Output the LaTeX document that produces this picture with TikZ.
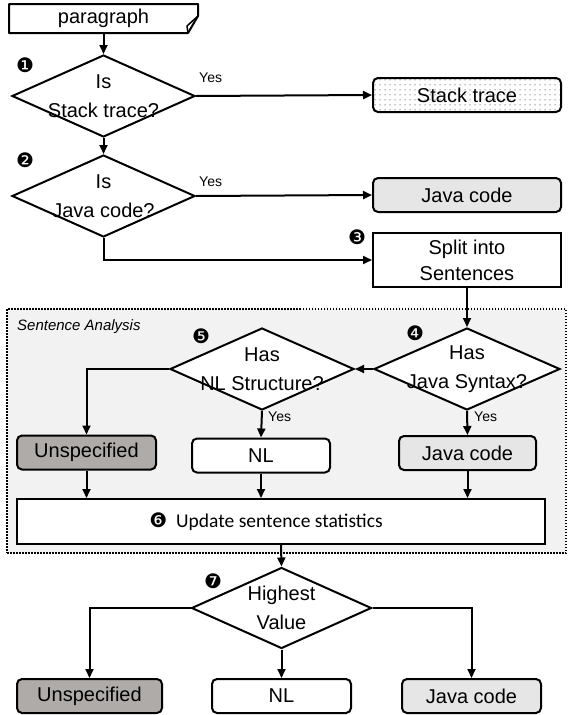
\documentclass[tikz,border=0pt]{standalone}
\usepackage{fontspec}
\setmainfont{Liberation Sans}
\newfontfamily\calibfont{Carlito}
\newfontfamily\dingfont{DejaVu Sans}
\usetikzlibrary{shapes.geometric,arrows.meta,calc,patterns.meta}
\newcommand{\stepno}[1]{{\dingfont\fontsize{20}{20}\selectfont #1}}
\definecolor{unsgray}{RGB}{174,171,169}
\definecolor{javagray}{RGB}{230,230,230}
\definecolor{areagray}{RGB}{242,242,242}
\tikzset{
	lbl/.style={font=\fontsize{20}{29}\selectfont, align=center, inner sep=0pt},
	yes/.style={font=\fontsize{14}{14}\selectfont, anchor=west, inner sep=0pt},
	box/.style={draw, line width=2pt, inner sep=0pt, font=\fontsize{20}{26}\selectfont, align=center},
	rbox/.style={box, rounded corners=5pt, minimum height=34pt},
	dec/.style={draw, diamond, line width=2pt, inner sep=0pt, fill=white},
	arr/.style={line width=2pt, -{Triangle[length=9pt,width=8pt]}},
	num/.style={inner sep=0pt}
}

\begin{document}
\begin{tikzpicture}[x=1pt,y=-1pt]
\useasboundingbox (0,0) rectangle (568,715);
% sentence analysis area
\node[draw, line width=2pt, dash pattern=on 1.5pt off 1.5pt, fill=areagray, minimum width=559pt, minimum height=244pt, inner sep=0pt] (area) at (286.5,431) {};
\node[font=\itshape\fontsize{15}{15}\selectfont, anchor=west, inner sep=0pt] (areaname) at (17,327) {Sentence Analysis};
% boxes
\node[box, draw=none, minimum width=187pt, minimum height=27pt] (para) at (103.5,18.5) {paragraph};
\draw[line width=2pt, line join=round] (para.north west) -- (para.north east) -- ($(para.north east)+(0,12)$) -- ($(para.south east)+(-10,0)$) -- (para.south west) -- cycle;
\draw[line width=1.5pt, line join=round] ($(para.north east)+(0,12)$) -- ($(para.south east)+(-11,-7)$) -- ($(para.south east)+(-10,0)$);
\node[rbox, minimum width=188pt, pattern={Dots[distance=5pt,radius=0.5pt]}] (stack) at (467,95) {Stack trace};
\node[rbox, minimum width=188pt, fill=javagray] (java1) at (467,195) {Java code};
\node[box, minimum width=188pt, minimum height=54pt, fill=white] (split) at (467,260) {Split into\\Sentences};
\node[rbox, minimum width=139pt, fill=unsgray] (uns1) at (86.5,452.5) {Unspecified};
\node[rbox, minimum width=138pt, fill=white] (nl1) at (261,455.5) {NL};
\node[rbox, minimum width=137pt, fill=javagray] (java2) at (467.5,453) {Java code};
\node[box, minimum width=528pt, minimum height=45pt, fill=white, font=\calibfont\fontsize{19.5}{20}\selectfont] (upd) at (281,521.5) {\stepno{❻}\hspace{9pt}Update sentence statistics\hspace{30pt}};
\node[rbox, minimum width=145pt, fill=unsgray] (uns2) at (89.5,696) {Unspecified};
\node[rbox, minimum width=139pt, fill=white] (nl2) at (281.5,696) {NL};
\node[rbox, minimum width=139pt, fill=javagray] (java3) at (471.5,696) {Java code};
% decisions
\node[dec, minimum width=183pt, minimum height=82pt] (is1) at (103.5,96) {};
\node[lbl] (is1t) at (is1) {Is\\Stack trace?};
\node[dec, minimum width=183pt, minimum height=82pt] (is2) at (103.5,196) {};
\node[lbl] (is2t) at (is2) {Is\\Java code?};
\node[dec, minimum width=186pt, minimum height=82pt] (has4) at (467,369) {};
\node[lbl] (has4t) at (has4) {Has\\Java Syntax?};
\node[dec, minimum width=184pt, minimum height=82pt] (has5) at (262,369) {};
\node[lbl] (has5t) at (has5) {Has\\NL Structure?};
\node[dec, minimum width=180pt, minimum height=81pt] (high) at (281.5,608) {};
\node[lbl] (hight) at (high) {Highest\\Value};
% step numbers
\node[num] (n1) at (25,65) {\stepno{❶}};
\node[num] (n2) at (25,160) {\stepno{❷}};
\node[num] (n3) at (357,237) {\stepno{❸}};
\node[num] (n4) at (415,333) {\stepno{❹}};
\node[num] (n5) at (201,336) {\stepno{❺}};
\node[num] (n7) at (213,581) {\stepno{❼}};
% yes labels
\node[yes] (y1) at (199,78) {Yes};
\node[yes] (y2) at (199,182) {Yes};
\node[yes] (y5) at (268,417) {Yes};
\node[yes] (y4) at (474,417) {Yes};
% connectors
\draw[arr] (para.south) -- (is1.north);
\draw[arr] (is1.east) -- (stack.west);
\draw[arr] (is1.south) -- (is2.north);
\draw[arr] (is2.east) -- (java1.west);
\draw[arr] (is2.south) |- (split.west);
\draw[arr] (split.south) -- (has4.north);
\draw[arr] (has4.west) -- (has5.east);
\draw[arr] (has5.west) -| (uns1.north);
\draw[arr] (has5.south) -- (nl1.north);
\draw[arr] (has4.south) -- (java2.north);
\draw[arr] (uns1.south) -- (uns1.south |- upd.north);
\draw[arr] (nl1.south) -- (nl1.south |- upd.north);
\draw[arr] (java2.south) -- (java2.south |- upd.north);
\draw[arr] (upd.south) -- (high.north);
\draw[arr] (high.west) -| (uns2.north);
\draw[arr] (high.south) -- (nl2.north);
\draw[arr] (high.east) -| (java3.north);
\end{tikzpicture}
\end{document}
